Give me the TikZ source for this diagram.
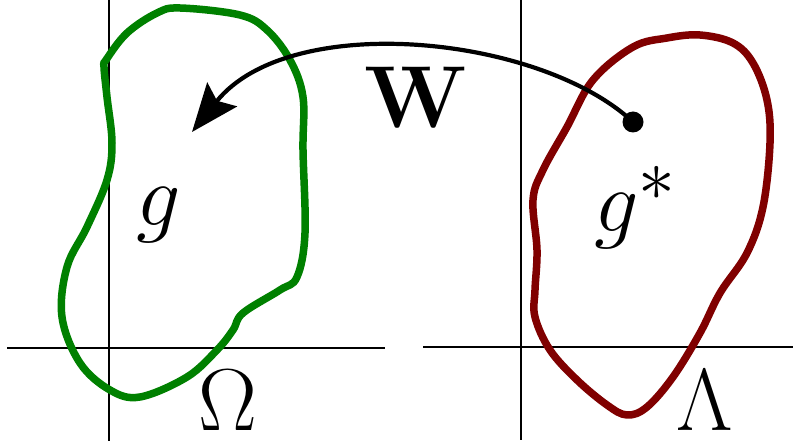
\documentclass[tikz,border=0pt]{standalone}
\usetikzlibrary{arrows.meta}
\definecolor{omg}{RGB}{0,128,0}
\definecolor{lam}{RGB}{128,0,0}
\begin{document}
\begin{tikzpicture}[x=1pt,y=-1pt,
  axis/.style={line width=1.1pt},
  blob/.style={line width=7.5pt, line join=round},
  lbl/.style={inner sep=0pt, anchor=base, font=\Huge, scale=3.537},
  mapping/.style={line width=4.2pt, -{Stealth[length=48pt,width=38pt,inset=8pt]}}]
\useasboundingbox (0,0) rectangle (793,446);
% axes
\coordinate (l1) at (109,0); \coordinate (l2) at (109,441);
\coordinate (l3) at (7,348); \coordinate (l4) at (385,348);
\coordinate (r1) at (521,0); \coordinate (r2) at (521,440);
\coordinate (r3) at (423,347); \coordinate (r4) at (793,347);
\draw[axis] (l1) -- (l2);
\draw[axis] (l3) -- (l4);
\draw[axis] (r1) -- (r2);
\draw[axis] (r3) -- (r4);
% Omega blob
\draw[blob, omg] plot[smooth cycle, tension=0.6] coordinates {
 (106,60) (127,33) (157,13) (180,8) (240,15) (267,30) (290,60) (303,97)
 (303,150) (305,233) (297,277) (280,290) (243,313) (233,330) (217,350)
 (187,377) (140,397) (110,390) (80,363) (62,317) (67,267) (87,227)
 (107,180) (112,143) (107,97) (104,67)};
% Lambda blob
\draw[blob, lam] plot[smooth cycle, tension=0.6] coordinates {
 (633,47) (667,38) (700,35) (733,43) (753,63) (767,100) (770,143)
 (763,207) (747,253) (720,293) (700,333) (673,377) (647,407) (627,415)
 (607,405) (577,380) (550,350) (535,317) (535,290) (537,250) (533,200)
 (543,170) (567,127) (593,80)};
% mapping arrow
\node[circle, fill=black, inner sep=0pt, minimum size=21pt] (dot) at (633,122) {};
\coordinate (tip) at (192,132);
\draw[mapping] (dot.center) .. controls (540,35) and (290,10) .. (tip);
% labels
\node[lbl] (W) at (416,128) {$\mathbf{W}$};
\node[lbl] (g) at (159,226) {$g$};
\node[lbl] (gs) at (636,232) {$g^*$};
\node[lbl] (Om) at (228,431) {$\Omega$};
\node[lbl] (La) at (705,430) {$\Lambda$};
\end{tikzpicture}
\end{document}
